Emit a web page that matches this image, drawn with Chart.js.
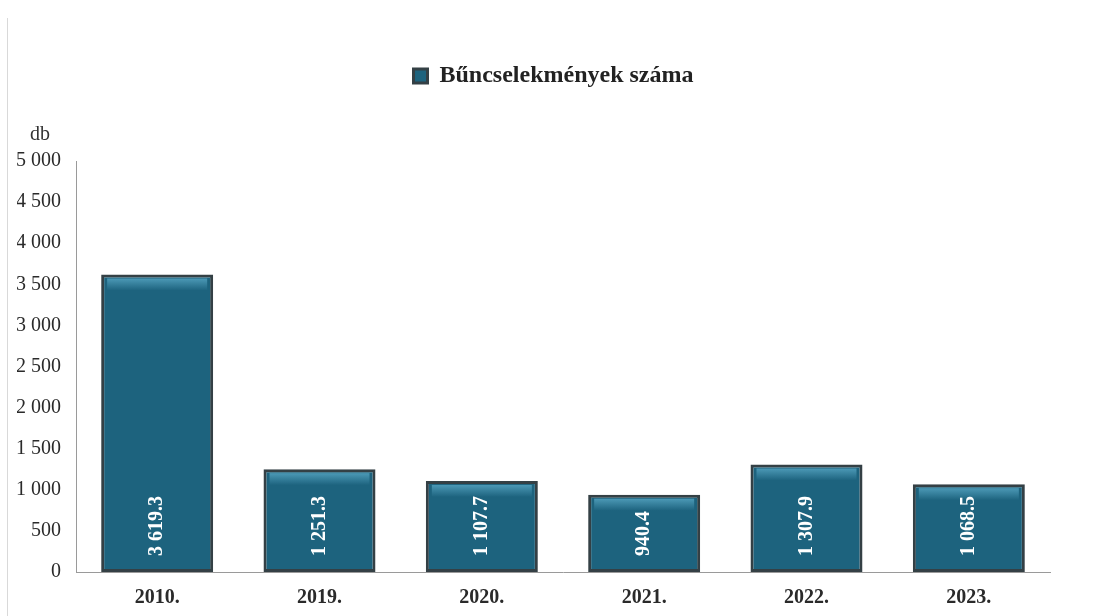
<!DOCTYPE html>
<html>
<head>
<meta charset="utf-8">
<script src="https://cdn.jsdelivr.net/npm/chart.js@4.4.1/dist/chart.umd.min.js"></script>
<style>
  html,body{margin:0;padding:0;background:#fff;}
  #wrap{position:relative;width:1096px;height:616px;}
  #frame{position:absolute;left:7px;top:18px;width:1px;height:598px;background:#d9d9d9;}
</style>
</head>
<body>
<div id="wrap">
  <div id="frame"></div>
  <canvas id="chart" width="1096" height="616"></canvas>
</div>
<script>
const years = ["2010.", "2019.", "2020.", "2021.", "2022.", "2023."];
const crimes = [3619.3, 1251.3, 1107.7, 940.4, 1307.9, 1068.5];
const seriesName = "Bűncselekmények száma";
const unitLabel = "db";

const serif = "'Liberation Serif', 'DejaVu Serif', serif";

// 1 234.5 style, space as thousands separator
function fmt(v, dec){
  const parts = v.toFixed(dec).split(".");
  parts[0] = parts[0].replace(/\B(?=(\d{3})+(?!\d))/g, " ");
  return parts.join(".");
}

// more room under the legend, and nudge it a bit to the right
const legendGap = {
  id: "legendGap",
  beforeInit(chart){
    const lg = chart.legend;
    const fit = lg.fit;
    lg.fit = function(){
      fit.bind(lg)();
      this.height += 63;
    };
    const draw = lg.draw;
    lg.draw = function(){
      this.left += 20; this.right += 20;
      draw.call(lg);
      this.left -= 20; this.right -= 20;
    };
  }
};

// light bevel strip near the top of each bar + rotated values
const barDecor = {
  id: "barDecor",
  afterDatasetsDraw(chart){
    const ctx = chart.ctx;
    const meta = chart.getDatasetMeta(0);
    ctx.save();
    meta.data.forEach((bar) => {
      const half = bar.width / 2;
      const top = bar.y + 4;
      const g = ctx.createLinearGradient(0, top, 0, top + 12);
      g.addColorStop(0, "rgba(95,175,205,0.7)");
      g.addColorStop(1, "rgba(95,175,205,0)");
      ctx.fillStyle = g;
      ctx.fillRect(bar.x - half + 6, top, bar.width - 12, 12);
    });
    ctx.fillStyle = "#ffffff";
    ctx.font = "bold 20px " + serif;
    ctx.textAlign = "left";
    ctx.textBaseline = "middle";
    meta.data.forEach((bar, i) => {
      ctx.save();
      ctx.translate(bar.x, bar.base - 16);
      ctx.rotate(-Math.PI / 2);
      ctx.fillText(fmt(crimes[i], 1), 0, 0);
      ctx.restore();
    });
    ctx.restore();
  }
};

const unitText = {
  id: "unitText",
  afterDraw(chart){
    const ctx = chart.ctx;
    const y = chart.scales.y;
    ctx.save();
    ctx.fillStyle = "#333";
    ctx.font = "20px " + serif;
    ctx.textAlign = "center";
    ctx.textBaseline = "middle";
    ctx.fillText(unitLabel, 40, y.top - 26);
    ctx.restore();
  }
};

new Chart(document.getElementById("chart"), {
  type: "bar",
  data: {
    labels: years,
    datasets: [{
      label: seriesName,
      data: crimes,
      backgroundColor: "#1d637e",
      borderColor: "#344045",
      borderWidth: 3,
      borderSkipped: false,
      barPercentage: 0.69,
      categoryPercentage: 1.0
    }]
  },
  options: {
    responsive: false,
    animation: false,
    layout: {
      padding: {top: 54, left: 17, right: 46, bottom: 0}
    },
    plugins: {
      legend: {
        display: true,
        position: "top",
        labels: {
          usePointStyle: true,
          pointStyle: "rect",
          boxWidth: 14,
          boxHeight: 14,
          color: "#222",
          padding: 10,
          font: {family: serif, size: 24, weight: "bold"}
        }
      },
      tooltip: {enabled: false},
      title: {display: false}
    },
    scales: {
      x: {
        afterFit: (s) => { s.height = 44; },
        grid: {display: false, drawTicks: false},
        border: {display: true, color: "#9a9a9a", width: 1},
        ticks: {
          color: "#2a2a2a",
          padding: 14,
          font: {family: serif, size: 20, weight: "bold"}
        }
      },
      y: {
        min: 0,
        max: 5000,
        afterFit: (s) => { s.width = 59; },
        grid: {display: false, drawTicks: false},
        border: {display: true, color: "#9a9a9a", width: 1},
        ticks: {
          stepSize: 500,
          color: "#2a2a2a",
          padding: 15,
          font: {family: serif, size: 20},
          callback: (v) => fmt(v, 0)
        }
      }
    }
  },
  plugins: [legendGap, barDecor, unitText]
});
</script>
</body>
</html>
